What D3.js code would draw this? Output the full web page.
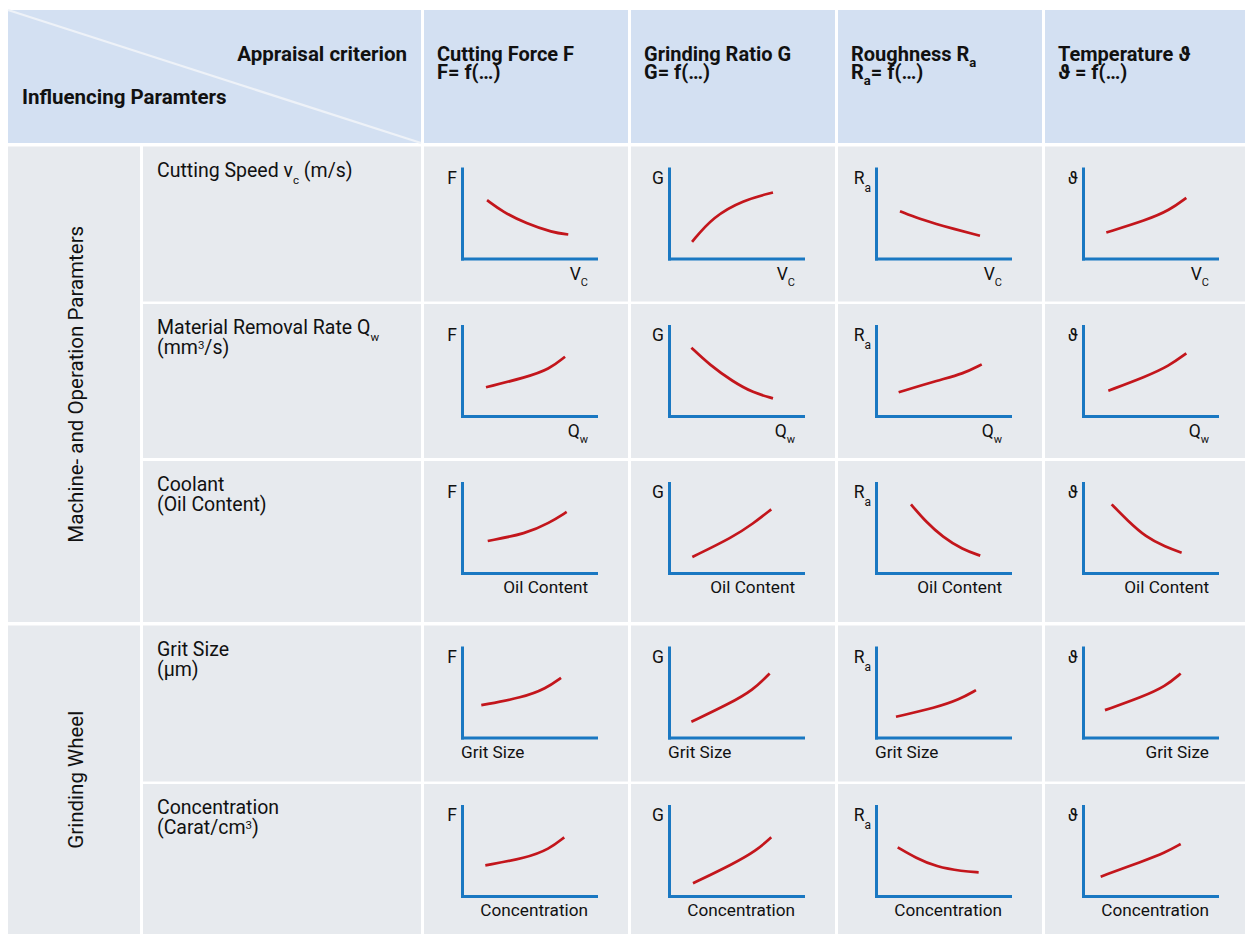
<!DOCTYPE html>
<html>
<head>
<meta charset="utf-8">
<script src="https://cdn.jsdelivr.net/npm/d3@7"></script>
<style>
  html, body { margin: 0; padding: 0; background: #ffffff; }
  svg { display: block; }
  text { font-family: Roboto, "DejaVu Sans", sans-serif; fill: #111111; }
</style>
</head>
<body>
<svg id="chart" width="1245" height="934"></svg>
<script>
// ---- Table content -------------------------------------------------------
// Rich-text markup: _{...} is a subscript, ^{...} is a superscript.
const cornerTop = "Appraisal criterion";
const cornerBottom = "Influencing Paramters";

const criteria = ["Cutting Force F", "Grinding Ratio G", "Roughness R_{a}", "Temperature ϑ"];
const criterionFormulas = ["F= f(…)", "G= f(…)", "R_{a}= f(…)", "ϑ = f(…)"];
const yAxisLabels = ["F", "G", "R_{a}", "ϑ"];

const groups = ["Machine- and Operation Paramters", "Grinding Wheel"];
const groupRowCounts = [3, 2];

const parameters = [
  ["Cutting Speed v_{c} (m/s)"],
  ["Material Removal Rate Q_{w}", "(mm^{3}/s)"],
  ["Coolant", "(Oil Content)"],
  ["Grit Size", "(µm)"],
  ["Concentration", "(Carat/cm^{3})"]
];
const xAxisLabels = ["V_{C}", "Q_{w}", "Oil Content", "Grit Size", "Concentration"];

// Qualitative trend of each criterion (columns) against each parameter (rows),
// as [parameter level, criterion level] on a 0–10 scale.
const trendCuttingSpeed = [
  [[1.87, 6.48], [3.04, 5.19], [4.78, 3.89], [6.77, 2.89], [7.93, 2.67]],
  [[1.72, 1.85], [3.28, 4.63], [5.52, 6.48], [7.76, 7.33]],
  [[1.79, 5.26], [3.28, 4.37], [4.78, 3.70], [7.76, 2.52]],
  [[1.74, 2.89], [4.72, 4.26], [6.47, 5.37], [7.71, 6.74]]
];
const trendRemovalRate = [
  [[1.79, 3.19], [4.78, 4.30], [6.52, 5.19], [7.69, 6.59]],
  [[1.67, 7.59], [3.04, 5.67], [4.78, 3.81], [6.27, 2.59], [7.76, 1.96]],
  [[1.69, 2.63], [4.72, 4.00], [6.47, 4.67], [7.89, 5.74]],
  [[1.89, 2.81], [4.68, 4.37], [6.42, 5.56], [7.71, 6.96]]
];
const trendCoolant = [
  [[1.92, 3.56], [4.78, 4.37], [6.52, 5.56], [7.81, 6.78]],
  [[1.74, 1.78], [4.78, 4.00], [6.27, 5.48], [7.63, 7.07]],
  [[2.61, 7.63], [3.73, 5.67], [4.98, 4.00], [6.47, 2.59], [7.78, 1.93]],
  [[2.14, 7.63], [3.31, 5.85], [4.68, 4.00], [6.17, 2.89], [7.36, 2.26]]
];
const trendGritSize = [
  [[1.44, 3.59], [4.53, 4.44], [6.27, 5.44], [7.39, 6.63]],
  [[1.67, 1.74], [4.53, 3.78], [6.27, 5.26], [7.51, 7.11]],
  [[1.49, 2.30], [4.48, 3.33], [6.22, 4.22], [7.46, 5.26]],
  [[1.64, 3.04], [4.43, 4.52], [6.17, 5.70], [7.29, 7.11]]
];
const trendConcentration = [
  [[1.74, 3.41], [4.78, 4.22], [6.52, 5.22], [7.63, 6.52]],
  [[1.79, 1.41], [4.78, 3.56], [6.52, 5.04], [7.63, 6.52]],
  [[1.62, 5.41], [2.99, 4.22], [4.48, 3.26], [6.47, 2.74], [7.66, 2.63]],
  [[1.32, 2.15], [4.43, 3.85], [6.17, 4.85], [7.29, 5.78]]
];
const trends = [trendCuttingSpeed, trendRemovalRate, trendCoolant, trendGritSize, trendConcentration];

// ---- Layout -------------------------------------------------------------
const svg = d3.select("#chart");
const headerTop = 10, headerBottom = 143;
const tableLeft = 8;
const groupColRight = 140, paramColLeft = 143, paramColRight = 421;
const colLeft = [424, 631, 838, 1045];
const colRight = [628, 835, 1042, 1245];
const rowTop = [146.5, 304, 461, 625.5, 784];
const rowBottom = [301.5, 458, 622, 781.5, 934];

const HEADER_FILL = "#d3e0f2";
const BODY_FILL = "#e7eaee";
const AXIS_BLUE = "#1a78c2";
const CURVE_RED = "#c3161c";

// Appends marked-up text as tspans (plain / subscript / superscript).
// A leading tspan may carry x/dy to start a new line; returns the
// baseline shift still pending at the end of the string.
function richText(sel, str, size, subSize, subDy, supDy, lineAttrs) {
  const re = /([_^])\{([^}]*)\}/g;
  let last = 0, m, shift = 0;
  const parts = [];
  while ((m = re.exec(str)) !== null) {
    if (m.index > last) parts.push({ t: str.slice(last, m.index), k: "n" });
    parts.push({ t: m[2], k: m[1] === "_" ? "sub" : "sup" });
    last = re.lastIndex;
  }
  if (last < str.length) parts.push({ t: str.slice(last), k: "n" });
  parts.forEach((p, i) => {
    const ts = sel.append("tspan").text(p.t);
    let dy = 0;
    if (i === 0 && lineAttrs) { ts.attr("x", lineAttrs.x); dy += lineAttrs.dy; }
    if (p.k === "n") {
      ts.attr("font-size", size);
      dy -= shift; shift = 0;
    } else {
      const target = p.k === "sub" ? subDy : supDy;
      ts.attr("font-size", subSize);
      dy += target - shift;
      shift = target;
    }
    if (dy !== 0) ts.attr("dy", dy);
  });
  return shift;
}

// Several lines of marked-up text inside one <text> element.
function multiLine(sel, lines, x, lineGap, size, subSize, subDy, supDy) {
  let pending = 0;
  lines.forEach((ln, li) => {
    const attrs = li === 0 ? null : { x: x, dy: lineGap - pending };
    pending = richText(sel, ln, size, subSize, subDy, supDy, attrs);
  });
}

// ---- Header -------------------------------------------------------------
svg.append("rect")
  .attr("x", tableLeft).attr("y", headerTop)
  .attr("width", paramColRight - tableLeft).attr("height", headerBottom - headerTop)
  .attr("fill", HEADER_FILL);
svg.append("line")
  .attr("x1", tableLeft).attr("y1", headerTop)
  .attr("x2", paramColRight).attr("y2", headerBottom)
  .attr("stroke", "#eef2f8").attr("stroke-width", 2.2);

svg.append("text")
  .attr("x", 407).attr("y", 61)
  .attr("text-anchor", "end")
  .attr("font-weight", 700).attr("font-size", 20.5)
  .text(cornerTop);
svg.append("text")
  .attr("x", 22).attr("y", 104)
  .attr("font-weight", 700).attr("font-size", 20.5)
  .text(cornerBottom);

criteria.forEach((c, i) => {
  svg.append("rect")
    .attr("x", colLeft[i]).attr("y", headerTop)
    .attr("width", colRight[i] - colLeft[i]).attr("height", headerBottom - headerTop)
    .attr("fill", HEADER_FILL);
  const tx = colLeft[i] + 13;
  const t = svg.append("text")
    .attr("x", tx).attr("y", 61)
    .attr("font-weight", 700);
  multiLine(t, [c, criterionFormulas[i]], tx, 18, 20, 13, 6, -6);
});

// ---- Group column -------------------------------------------------------
let rowIndex = 0;
groups.forEach((g, gi) => {
  const first = rowIndex, last = rowIndex + groupRowCounts[gi] - 1;
  const y1 = rowTop[first], y2 = rowBottom[last];
  svg.append("rect")
    .attr("x", tableLeft).attr("y", y1)
    .attr("width", groupColRight - tableLeft).attr("height", y2 - y1)
    .attr("fill", BODY_FILL);
  const cy = (y1 + y2) / 2;
  svg.append("text")
    .attr("transform", `translate(${83},${cy}) rotate(-90)`)
    .attr("text-anchor", "middle")
    .attr("font-size", 20.5)
    .text(g);
  rowIndex += groupRowCounts[gi];
});

// ---- Parameter rows and trend charts -----------------------------------
const AXIS_W = 134, AXIS_H = 90;
const line = d3.line().curve(d3.curveBasis);

parameters.forEach((lines, r) => {
  svg.append("rect")
    .attr("x", paramColLeft).attr("y", rowTop[r])
    .attr("width", paramColRight - paramColLeft).attr("height", rowBottom[r] - rowTop[r])
    .attr("fill", BODY_FILL);
  const t = svg.append("text")
    .attr("x", 157).attr("y", rowTop[r] + 30);
  multiLine(t, lines, 157, 20, 19.5, 11.5, 7, -5);

  criteria.forEach((c, ci) => {
    svg.append("rect")
      .attr("x", colLeft[ci]).attr("y", rowTop[r])
      .attr("width", colRight[ci] - colLeft[ci]).attr("height", rowBottom[r] - rowTop[r])
      .attr("fill", BODY_FILL);

    const x0 = colLeft[ci] + 38;
    const y0 = rowTop[r] + 112;
    const x = d3.scaleLinear().domain([0, 10]).range([x0, x0 + AXIS_W]);
    const y = d3.scaleLinear().domain([0, 10]).range([y0, y0 - AXIS_H]);

    const g = svg.append("g");
    const ax = g.append("g").attr("transform", `translate(0,${y0})`)
      .call(d3.axisBottom(x).tickValues([]).tickSizeOuter(0));
    const ay = g.append("g").attr("transform", `translate(${x0},0)`)
      .call(d3.axisLeft(y).tickValues([]).tickSizeOuter(0));
    [ax, ay].forEach(a => a.select(".domain")
      .attr("stroke", AXIS_BLUE).attr("stroke-width", 3)
      .attr("stroke-linecap", "square"));

    line.x(d => x(d[0])).y(d => y(d[1]));
    g.append("path")
      .attr("d", line(trends[r][ci]))
      .attr("fill", "none")
      .attr("stroke", CURVE_RED)
      .attr("stroke-width", 2.7)
      .attr("stroke-linecap", "butt");

    // criterion label on the vertical axis
    const yl = g.append("text")
      .attr("x", x0 - 5).attr("y", y(10) + 15)
      .attr("text-anchor", "end");
    richText(yl, yAxisLabels[ci], 17.5, 12, 8, -5);

    // parameter label under the horizontal axis
    const xl = xAxisLabels[r];
    const leftAligned = xl === "Grit Size" && ci < 3;
    const big = xl.indexOf("_{") >= 0;
    const tx = g.append("text")
      .attr("x", leftAligned ? x0 - 1 : x0 + 126)
      .attr("y", y0 + (big ? 21 : 20))
      .attr("text-anchor", leftAligned ? "start" : "end");
    richText(tx, xl, big ? 17.5 : 17.2, 11, 6, -5);
  });
});
</script>
</body>
</html>
